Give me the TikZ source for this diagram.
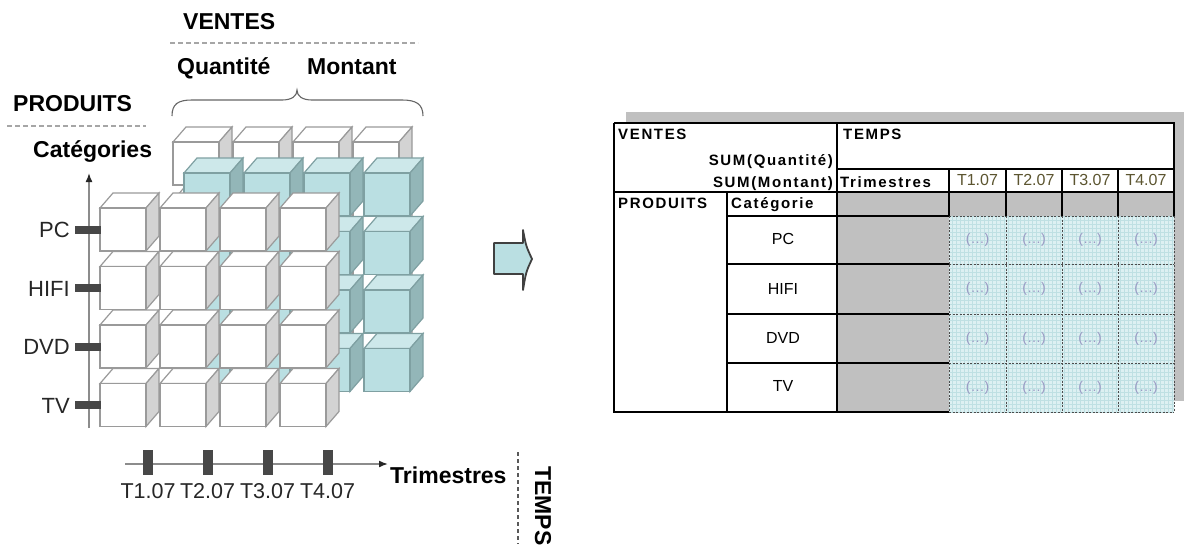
\documentclass[tikz,border=0pt]{standalone}
\usepackage{fontspec}
\setmainfont{Liberation Sans}
\newfontfamily\tabfont[LetterSpace=11]{Liberation Sans}
\usetikzlibrary{arrows.meta}
\definecolor{cyanfront}{HTML}{BADFE2}
\definecolor{cyanside}{HTML}{93B6B8}
\definecolor{cyantop}{HTML}{CDE8EA}
\definecolor{cubeedge}{HTML}{9A9A9A}
\definecolor{cyanedge}{HTML}{7FA0A2}
\definecolor{whiteside}{HTML}{D3D3D3}
\definecolor{tickgray}{HTML}{474747}
\definecolor{axisgray}{HTML}{8C8C8C}
\definecolor{dashgray}{HTML}{A6A6A6}
\definecolor{cellgray}{HTML}{C0C0C0}
\definecolor{gridcyan}{HTML}{DDF0F2}
\definecolor{gridline}{HTML}{BFE0E3}
\definecolor{dotsc}{HTML}{9A9AC4}
\definecolor{tlabel}{HTML}{5C5530}
\newcommand{\drawcube}[3]{%
  \filldraw[#3top] (#1,#2) -- ++(13,-15) -- ++(46,0) -- ++(-13,15) -- cycle;
  \filldraw[#3side] (#1+46,#2) -- ++(13,-15) -- ++(0,43) -- ++(-13,15) -- cycle;
  \filldraw[#3front] (#1,#2) rectangle ++(46,43);
}
\begin{document}
\begin{tikzpicture}[x=1pt,y=-1pt,
  wtop/.style={fill=white, draw=cubeedge, line width=1.2},
  wside/.style={fill=whiteside, draw=cubeedge, line width=1.2},
  wfront/.style={fill=white, draw=cubeedge, line width=1.2},
  ctop/.style={fill=cyantop, draw=cyanedge, line width=1.2},
  cside/.style={fill=cyanside, draw=cyanedge, line width=1.2},
  cfront/.style={fill=cyanfront, draw=cyanedge, line width=1.2},
  lbl/.style={inner sep=0pt, font=\fontsize{23}{23}\selectfont\bfseries},
  reg/.style={inner sep=0pt, font=\fontsize{22}{22}\selectfont, text=black!85},
  tb/.style={inner sep=0pt, font=\fontsize{15}{15}\tabfont\bfseries},
  tr/.style={inner sep=0pt, font=\fontsize{16}{16}\selectfont},
  dots/.style={inner sep=0pt, font=\fontsize{14}{14}\selectfont, text=dotsc},
  tickv/.style={fill=tickgray, inner sep=0pt, minimum width=26pt, minimum height=8pt},
  tickh/.style={fill=tickgray, inner sep=0pt, minimum width=10pt, minimum height=25pt},
  sepdash/.style={draw=dashgray, line width=2, dash pattern=on 5pt off 3pt},
  tline/.style={draw=black, line width=1.8},
  cdash/.style={draw=black!70, line width=0.9, dash pattern=on 2pt off 1.5pt},
]
\useasboundingbox (0,0) rectangle (1184,544);
\fill[white] (0,0) rectangle (1184,544);
\clip (0,0) rectangle (1184,544);

% ---------- headings ----------
\node[lbl, anchor=base west] (ventes) at (183,29) {VENTES};
\draw[sepdash] (170,43) -- (418,43);
\node[lbl, anchor=base west] (quant) at (177,74) {Quantité};
\node[lbl, anchor=base west] (mont) at (307,74) {Montant};
\draw[draw=black!60, line width=1.1] (172,116) .. controls (172,104) and (178,100) .. (192,100)
  -- (282,100) .. controls (292,100) and (297,96) .. (297,90)
  .. controls (297,96) and (302,100) .. (312,100) -- (402,100)
  .. controls (416,100) and (423,104) .. (423,116);
\node[lbl, anchor=base west] (produits) at (13,111) {PRODUITS};
\draw[sepdash] (7,126) -- (146,126);
\node[lbl, anchor=base west] (categ) at (33,157) {Catégories};

% ---------- cubes ----------
\foreach \i in {0,...,3}{\foreach \j in {0,...,3}{%
  \pgfmathsetmacro\cx{173+60*\i}\pgfmathsetmacro\cy{142+58.5*\j}%
  \drawcube{\cx}{\cy}{w}}}
\foreach \i in {0,...,3}{\foreach \j in {0,...,3}{%
  \pgfmathsetmacro\cx{184+60*\i}\pgfmathsetmacro\cy{173+58.5*\j}%
  \drawcube{\cx}{\cy}{c}}}
\foreach \i in {0,...,3}{\foreach \j in {0,...,3}{%
  \pgfmathsetmacro\cx{100+60*\i}\pgfmathsetmacro\cy{208+58.5*\j}%
  \drawcube{\cx}{\cy}{w}}}

% ---------- vertical axis ----------
\coordinate (vaxb) at (89,428);
\coordinate (vaxt) at (89,173);
\draw[axisgray, line width=1.6, -{Latex[length=9pt,width=7pt,color=black!85]}] (vaxb) -- (vaxt);
\foreach \n/\t/\y in {pc/PC/229.5, hifi/HIFI/288, dvd/DVD/346.5, tv/TV/405}{%
  \node[tickv] (tk\n) at (88,\y) {};
  \node[reg, anchor=base east] (l\n) at (70,\y+8) {\t};
}

% ---------- horizontal axis ----------
\coordinate (haxl) at (125,464);
\coordinate (haxr) at (388,464);
\draw[axisgray, line width=1.6, -{Latex[length=9pt,width=7pt,color=black!85]}] (haxl) -- (haxr);
\foreach \n/\x in {1/148, 2/207.5, 3/267.5, 4/327.5}{%
  \node[tickh] (th\n) at (\x,462.5) {};
  \node[reg, anchor=base, font=\fontsize{21.5}{21.5}\selectfont] (lt\n) at (\x,498) {T\n.07};
}
\node[lbl, anchor=base west] (trim) at (390,483) {Trimestres};
\draw[draw=black!65, line width=1.5, dash pattern=on 4pt off 3pt] (518,452) -- (518,544);
\node[lbl, rotate=-90, anchor=west] (temps) at (543,466) {TEMPS};

% ---------- block arrow ----------
\filldraw[fill=cyanfront, draw=black!75, line width=1.8, line join=round]
  (494,243) -- (523,243) -- (523,230) .. controls (526,246) .. (532,259)
  .. controls (526,272) .. (523,290) -- (523,274) -- (494,274) -- cycle;

% ---------- table ----------
\fill[cellgray] (626,112) rectangle (1186,401);
\fill[white] (614,123) rectangle (1174,412);
\fill[cellgray] (837,192) rectangle (949,412);
\fill[cellgray] (949,192) rectangle (1174,216);
\fill[gridcyan] (949,216) rectangle (1174,412);
\draw[gridline, line width=0.5, step=4pt] (949,216) grid (1174,412);

% solid lines
\draw[tline] (614,123) -- (1174,123) -- (1174,216);
\draw[tline] (614,123) -- (614,412) -- (949,412);
\draw[tline] (837,123) -- (837,412);
\draw[tline] (837,169) -- (1174,169);
\draw[tline] (614,192) -- (1174,192);
\draw[tline] (727,192) -- (727,412);
\foreach \y in {216,264,314,363}{\draw[tline] (727,\y) -- (949,\y);}
\foreach \x in {949,1006,1062,1118}{\draw[tline] (\x,169) -- (\x,216);}
% dashed cell borders
\foreach \y in {216,264,314,363,412}{\draw[cdash] (949,\y) -- (1174,\y);}
\foreach \x in {949,1006,1062,1118,1174}{\draw[cdash] (\x,216) -- (\x,412);}

% table texts
\node[tb, anchor=base west] (tventes) at (618,139) {VENTES};
\node[tb, anchor=base west] (ttemps) at (843,139) {TEMPS};
\node[tb, anchor=base east] (tsumq) at (833,165) {SUM(Quantité)};
\node[tb, anchor=base east] (tsumm) at (833,187) {SUM(Montant)};
\node[tb, anchor=base west] (ttrim) at (840,187) {Trimestres};
\node[tb, anchor=base west] (tprod) at (618,208) {PRODUITS};
\node[tb, anchor=base west] (tcat) at (731,208) {Catégorie};
\foreach \n/\x in {1/977.5, 2/1034, 3/1090, 4/1146}{%
  \node[tr, anchor=base, text=tlabel] (tt\n) at (\x,185) {T\n.07};
}
\foreach \n/\t/\y in {pc/PC/244, hifi/HIFI/294, dvd/DVD/343, tv/TV/391}{%
  \node[tr, anchor=base] (tc\n) at (783,\y) {\t};
}
\foreach \r/\y in {1/240, 2/289, 3/338.5, 4/387.5}{%
  \foreach \c/\x in {1/977.5, 2/1034, 3/1090, 4/1146}{%
    \node[dots] (d\r\c) at (\x,\y) {(…)};
  }
}
\end{tikzpicture}
\end{document}
